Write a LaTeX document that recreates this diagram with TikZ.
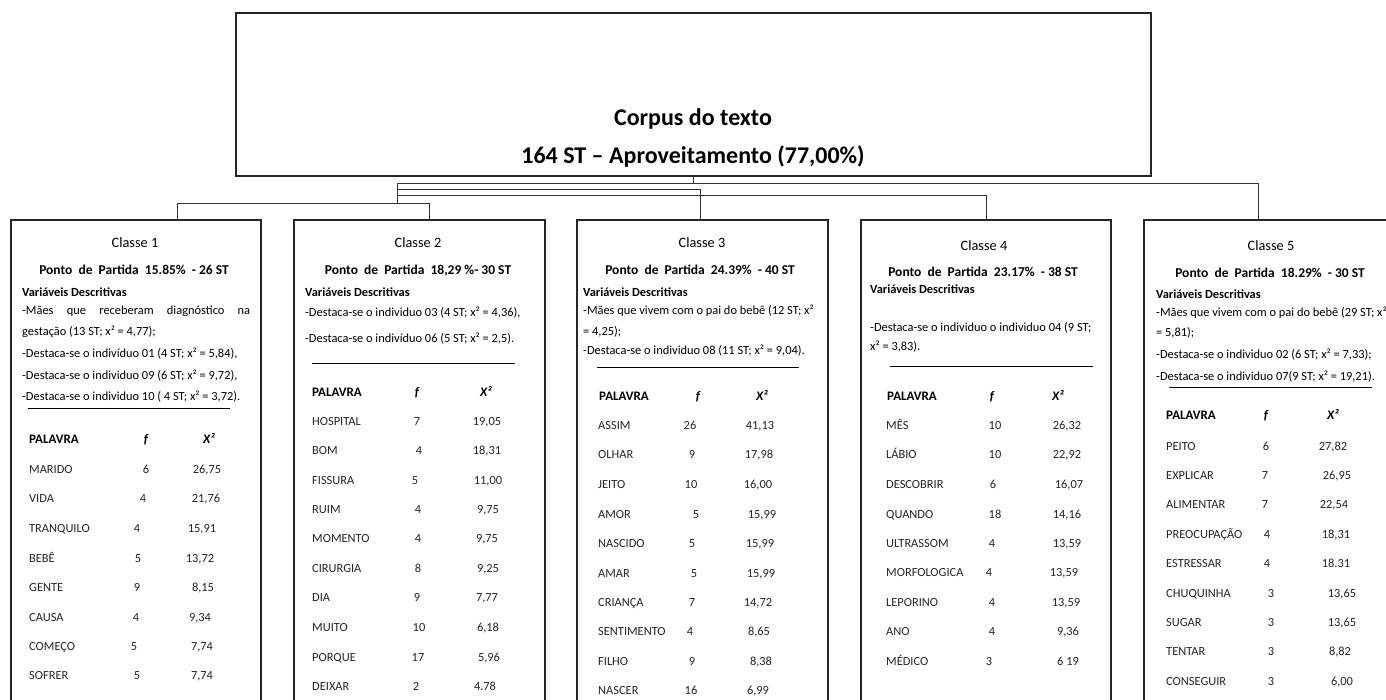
\documentclass[tikz,border=0pt]{standalone}
\usepackage{fontspec}
\setmainfont{Carlito}
\begin{document}
\begin{tikzpicture}[x=1pt,y=-1pt,
  box/.style={draw=black!85,line width=1.1pt,rectangle,inner sep=0pt},
  conn/.style={draw=black!80,line width=0.9pt},
  rulel/.style={draw=black,line width=1pt},
  ttl/.style={font=\bfseries\fontsize{24}{28}\selectfont,inner sep=0pt,text height=17pt,text depth=0pt},
  cls/.style={font=\fontsize{14.3}{16}\selectfont,inner sep=0pt,text height=10pt,text depth=0pt},
  ponto/.style={font=\bfseries\fontsize{13.5}{15}\selectfont,inner sep=0pt,text height=10pt,text depth=0pt},
  var/.style={font=\bfseries\fontsize{12.4}{13}\selectfont,inner sep=0pt,anchor=west,text height=8pt,text depth=0pt},
  desc/.style={font=\fontsize{12.4}{13}\selectfont,inner sep=0pt,anchor=west,text height=8pt,text depth=0pt},
  cell/.style={font=\fontsize{12.4}{13}\selectfont,inner sep=0pt,text=black!85,text height=8pt,text depth=0pt},
  head/.style={font=\bfseries\fontsize{13}{14}\selectfont,inner sep=0pt,text height=8.5pt,text depth=0pt}]
\newcommand\tabrow[9]{%
  \node[cell,anchor=west] (#1w#2) at (#4,#3) {#5};
  \node[cell] (#1f#2) at (#6,#3) {#7};
  \node[cell] (#1v#2) at (#8,#3) {#9};}
\newcommand\tabhead[5]{%
  \node[head,anchor=west] (#1hw) at (#3,#2) {PALAVRA};
  \node[head] (#1hf) at (#4,#2) {\itshape f};
  \node[head] (#1hv) at (#5,#2) {\itshape X²};}
\useasboundingbox (0,0) rectangle (1386,700);
\clip (0,0) rectangle (1386,700);
\fill[white] (0,0) rectangle (1386,700);

% top box
\node[box,minimum width=915pt,minimum height=163pt] (corpus) at (693.5,94.5) {};
\node[ttl] (t1) at (693,117) {Corpus do texto};
\node[ttl] (t2) at (693,155) {164 ST – Aproveitamento (77,00\%)};

% class boxes
\node[box,minimum width=250pt,minimum height=520pt] (c1) at (136,480) {};
\node[box,minimum width=251pt,minimum height=520pt] (c2) at (419.5,480) {};
\node[box,minimum width=251pt,minimum height=520pt] (c3) at (702.5,480) {};
\node[box,minimum width=250pt,minimum height=520pt] (c4) at (986,480) {};
\node[box,minimum width=250pt,minimum height=520pt] (c5) at (1269,480) {};

% connectors
\coordinate (bL) at (397,183);
\coordinate (bR) at (1258,183);
\coordinate (b2L) at (397,189);
\coordinate (b2R) at (700,189);
\coordinate (b3L) at (397,195);
\coordinate (b3R) at (986,195);
\coordinate (dM) at (397,203);
\coordinate (dL) at (177,203);
\coordinate (dR) at (429,203);
\draw[conn] (corpus.south) -- (corpus.south |- bL) -- (bL);
\draw[conn] (bL) -- (bR) -- (bR |- c5.north);
\draw[conn] (b2L) -- (b2R) -- (b2R |- c3.north);
\draw[conn] (b3L) -- (b3R) -- (b3R |- c4.north);
\draw[conn] (bL) -- (dM);
\draw[conn] (dL |- c1.north) -- (dL) -- (dR) -- (dR |- c2.north);

% ---------- Classe 1
\node[cls] (c1t) at (135,243) {Classe 1};
\node[ponto] (c1p) at (134,270) {Ponto\ \ de\ \ Partida\ \ 15.85\% \ - 26 ST};
\node[var] (c1v) at (22,293) {Variáveis Descritivas};
\node[desc] (c1d1) at (22,311) {\makebox[228pt][s]{-Mães que receberam diagnóstico na}};
\node[desc] (c1d2) at (22,331) {gestação (13 ST; x² = 4,77);};
\node[desc] (c1d3) at (22,353) {-Destaca-se o indivíduo 01 (4 ST; x² = 5,84),};
\node[desc] (c1d4) at (22,375) {-Destaca-se o individuo 09 (6 ST; x² = 9,72),};
\node[desc] (c1d5) at (22,396) {-Destaca-se o individuo 10 ( 4 ST; x² = 3,72).};
\draw[rulel] (28,408) -- (230,408);
\tabhead{c1}{439}{29}{146}{209}
\tabrow{c1}{1}{469}{29}{MARIDO}{146}{6}{207}{26,75}
\tabrow{c1}{2}{498}{29}{VIDA}{143}{4}{206}{21,76}
\tabrow{c1}{3}{528}{29}{TRANQUILO}{137}{4}{202}{15,91}
\tabrow{c1}{4}{558}{29}{BEBÊ}{138}{5}{200}{13,72}
\tabrow{c1}{5}{587}{29}{GENTE}{137}{9}{203}{8,15}
\tabrow{c1}{6}{617}{29}{CAUSA}{136}{4}{200}{9,34}
\tabrow{c1}{7}{646}{29}{COMEÇO}{134}{5}{202}{7,74}
\tabrow{c1}{8}{675}{29}{SOFRER}{137}{5}{202}{7,74}

% ---------- Classe 2
\node[cls] (c2t) at (418,243) {Classe 2};
\node[ponto] (c2p) at (418,270) {Ponto\ \ de\ \ Partida\ \ 18,29 \%- 30 ST};
\node[var] (c2v) at (305,293) {Variáveis Descritivas};
\node[desc] (c2d1) at (305,313) {-Destaca-se o individuo 03 (4 ST; x² = 4,36),};
\node[desc] (c2d2) at (305,338) {-Destaca-se o indivíduo 06 (5 ST; x² = 2,5).};
\draw[rulel] (312,363) -- (515,363);
\tabhead{c2}{392}{312}{417}{486}
\tabrow{c2}{1}{421}{312}{HOSPITAL}{417}{7}{487}{19,05}
\tabrow{c2}{2}{450}{312}{BOM}{419}{4}{487}{18,31}
\tabrow{c2}{3}{480}{312}{FISSURA}{415}{5}{488}{11,00}
\tabrow{c2}{4}{509}{312}{RUIM}{418}{4}{488}{9,75}
\tabrow{c2}{5}{538}{312}{MOMENTO}{418}{4}{487}{9,75}
\tabrow{c2}{6}{568}{312}{CIRURGIA}{418}{8}{488}{9,25}
\tabrow{c2}{7}{597}{312}{DIA}{417}{9}{487}{7,77}
\tabrow{c2}{8}{627}{312}{MUITO}{419}{10}{488}{6,18}
\tabrow{c2}{9}{657}{312}{PORQUE}{418}{17}{489}{5,96}
\tabrow{c2}{10}{686}{312}{DEIXAR}{416}{2}{485}{4.78}

% ---------- Classe 3
\node[cls] (c3t) at (702,243) {Classe 3};
\node[ponto] (c3p) at (700,270) {Ponto\ \ de\ \ Partida\ \ 24.39\% \ - 40 ST};
\node[var] (c3v) at (583,293) {Variáveis Descritivas};
\node[desc] (c3d1) at (583,311) {-Mães que vivem com o pai do bebê (12 ST; x²};
\node[desc] (c3d2) at (583,331) {= 4,25);};
\node[desc] (c3d3) at (583,350) {-Destaca-se o individuo 08 (11 ST; x² = 9,04).};
\draw[rulel] (597,367) -- (799,367);
\tabhead{c3}{396}{599}{698}{762}
\tabrow{c3}{1}{425}{598}{ASSIM}{690}{26}{760}{41,13}
\tabrow{c3}{2}{454}{598}{OLHAR}{692}{9}{759}{17,98}
\tabrow{c3}{3}{484}{598}{JEITO}{691}{10}{758}{16,00}
\tabrow{c3}{4}{514}{598}{AMOR}{696}{5}{762}{15,99}
\tabrow{c3}{5}{543}{598}{NASCIDO}{692}{5}{760}{15,99}
\tabrow{c3}{6}{573}{598}{AMAR}{694}{5}{761}{15,99}
\tabrow{c3}{7}{602}{598}{CRIANÇA}{692}{7}{758}{14,72}
\tabrow{c3}{8}{631}{598}{SENTIMENTO}{690}{4}{759}{8,65}
\tabrow{c3}{9}{661}{598}{FILHO}{692}{9}{761}{8,38}
\tabrow{c3}{10}{690}{598}{NASCER}{691}{16}{758}{6,99}

% ---------- Classe 4
\node[cls] (c4t) at (984,246) {Classe 4};
\node[ponto] (c4p) at (983,272) {Ponto\ \ de\ \ Partida\ \ 23.17\% \ - 38 ST};
\node[var] (c4v) at (870,290) {Variáveis Descritivas};
\node[desc] (c4d1) at (870,328) {-Destaca-se o individuo o individuo 04 (9 ST;};
\node[desc] (c4d2) at (870,347) {x² = 3,83).};
\draw[rulel] (890,366) -- (1093,366);
\tabhead{c4}{396}{887}{992}{1058}
\tabrow{c4}{1}{425}{886}{MÊS}{995}{10}{1067}{26,32}
\tabrow{c4}{2}{454}{886}{LÁBIO}{995}{10}{1067}{22,92}
\tabrow{c4}{3}{484}{886}{DESCOBRIR}{993}{6}{1069}{16,07}
\tabrow{c4}{4}{514}{886}{QUANDO}{995}{18}{1067}{14,16}
\tabrow{c4}{5}{543}{886}{ULTRASSOM}{992}{4}{1067}{13,59}
\tabrow{c4}{6}{572}{886}{MORFOLOGICA}{989}{4}{1064}{13,59}
\tabrow{c4}{7}{602}{886}{LEPORINO}{992}{4}{1066}{13,59}
\tabrow{c4}{8}{631}{886}{ANO}{992}{4}{1068}{9,36}
\tabrow{c4}{9}{661}{886}{MÉDICO}{989}{3}{1068}{6 19}

% ---------- Classe 5
\node[cls] (c5t) at (1271,246) {Classe 5};
\node[ponto] (c5p) at (1270,273) {Ponto\ \ de\ \ Partida\ \ 18.29\% \ - 30 ST};
\node[var] (c5v) at (1156,295) {Variáveis Descritivas};
\node[desc] (c5d1) at (1156,313) {-Mães que vivem com o pai do bebê (29 ST; x²};
\node[desc] (c5d2) at (1156,333) {= 5,81);};
\node[desc] (c5d3) at (1156,355) {-Destaca-se o individuo 02 (6 ST; x² = 7,33);};
\node[desc] (c5d4) at (1156,376) {-Destaca-se o individuo 07(9 ST; x² = 19,21).};
\draw[rulel] (1169,387) -- (1372,387);
\tabhead{c5}{415}{1166}{1266}{1333}
\tabrow{c5}{1}{446}{1166}{PEITO}{1266}{6}{1333}{27,82}
\tabrow{c5}{2}{475}{1166}{EXPLICAR}{1265}{7}{1337}{26,95}
\tabrow{c5}{3}{504}{1166}{ALIMENTAR}{1265}{7}{1334}{22,54}
\tabrow{c5}{4}{534}{1166}{PREOCUPAÇÃO}{1267}{4}{1336}{18,31}
\tabrow{c5}{5}{563}{1166}{ESTRESSAR}{1267}{4}{1336}{18.31}
\tabrow{c5}{6}{593}{1166}{CHUQUINHA}{1271}{3}{1342}{13,65}
\tabrow{c5}{7}{622}{1166}{SUGAR}{1271}{3}{1342}{13,65}
\tabrow{c5}{8}{651}{1166}{TENTAR}{1271}{3}{1340}{8,82}
\tabrow{c5}{9}{681}{1166}{CONSEGUIR}{1271}{3}{1342}{6,00}
\end{tikzpicture}
\end{document}
